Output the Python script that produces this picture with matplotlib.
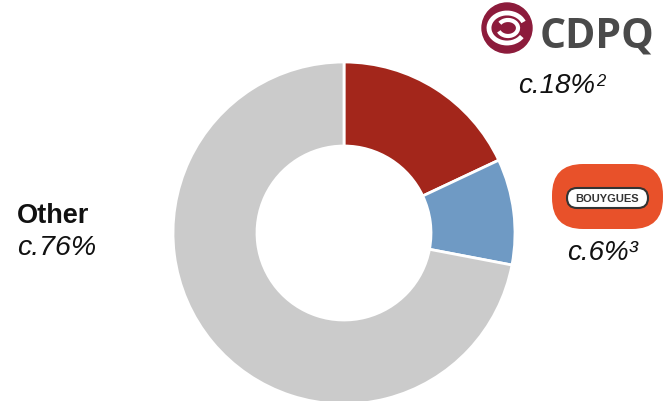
import matplotlib.pyplot as plt
from matplotlib.patches import Circle, FancyBboxPatch, Arc

# slice sizes as drawn, and the printed labels
shares = [18, 10, 72]
colors = ['#A3261B', '#6F9AC4', '#CBCBCB']
cdpq_label = 'c.18%'
cdpq_note = '2'
bouygues_label = 'c.6%³'
other_name = 'Other'
other_label = 'c.76%'

plt.rcParams['font.family'] = ['Liberation Sans', 'DejaVu Sans']

fig = plt.figure(figsize=(6.63, 4.02), dpi=100)
ax = fig.add_axes([0, 0, 1, 1])

# donut (pixel coords, y measured from bottom)
ax.pie(shares, colors=colors, startangle=90, counterclock=False,
       center=(344, 402 - 234), radius=171,
       wedgeprops=dict(width=84, edgecolor='white', linewidth=2))
ax.set_xlim(0, 663)
ax.set_ylim(0, 402)
ax.set_aspect('equal')
ax.axis('off')

# CDPQ logo
cx, cy = 507, 402 - 29
ax.add_patch(Circle((cx, cy), 25, color='#8C1B3B'))
ax.add_patch(Arc((cx, cy), 36, 30, theta1=20, theta2=330, color='white', lw=3.5))
ax.add_patch(Arc((cx + 1, cy), 20, 16, theta1=200, theta2=150, color='white', lw=3))
ax.add_patch(Arc((cx + 2, cy), 8, 6, theta1=0, theta2=300, color='#8C1B3B', lw=1))
ax.text(540, 402 - 47, 'CDPQ', fontsize=29.5, fontweight='bold', color='#4A4A4A',
        family=['Open Sans', 'DejaVu Sans'], ha='left', va='baseline')
t = ax.text(518, 402 - 93, cdpq_label, fontsize=20, style='italic', color='#111111',
            ha='left', va='baseline')
ax.annotate(cdpq_note, xy=(1, 1), xycoords=t, xytext=(1, -1), textcoords='offset points',
            fontsize=12, style='italic', color='#111111', ha='left', va='top')

# Bouygues logo
ax.add_patch(FancyBboxPatch((552 + 31, 402 - 230 + 31), 111 - 62, 65 - 62,
                            boxstyle='round,pad=31', color='#E8512A', lw=0))
ax.add_patch(FancyBboxPatch((567 + 10, 402 - 209 + 10), 81 - 20, 20 - 20,
                            boxstyle='round,pad=10', facecolor='white',
                            edgecolor='#333333', lw=1.5))
ax.text(607, 402 - 199, 'BOUYGUES', fontsize=8, fontweight='bold', color='#333333',
        ha='center', va='center')
ax.text(567, 402 - 260, bouygues_label, fontsize=20, style='italic', color='#111111',
        ha='left', va='baseline')

# Other
ax.text(17, 402 - 223, other_name, fontsize=19.5, fontweight='bold', color='#111111',
        ha='left', va='baseline')
ax.text(17, 402 - 255, other_label, fontsize=20.5, style='italic', color='#111111',
        ha='left', va='baseline')

fig.savefig('out.png', dpi=100)
